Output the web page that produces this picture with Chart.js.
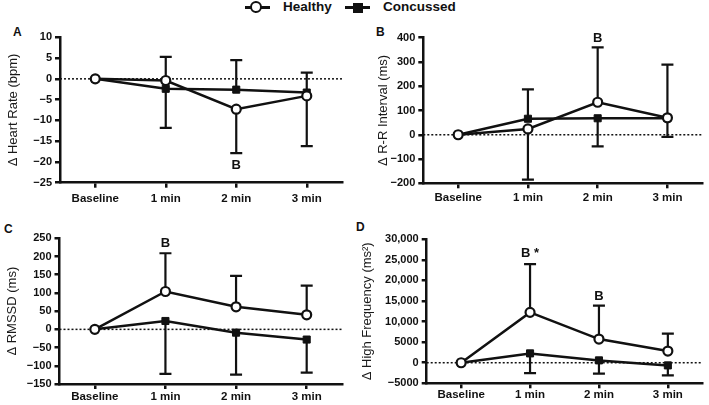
<!DOCTYPE html>
<html>
<head>
<meta charset="utf-8">
<script src="https://cdn.jsdelivr.net/npm/chart.js@4.4.1/dist/chart.umd.min.js"></script>
<style>
  body { margin: 0; background: #fff; font-family: "Liberation Sans", Arial, sans-serif; color: #111; }
  #wrap { position: relative; width: 709px; height: 405px; overflow: hidden; }
  canvas { position: absolute; }
  .tag { position: absolute; font-weight: bold; font-size: 12px; line-height: 12px; }
  .leg-text { position: absolute; top: 0; font-weight: bold; font-size: 13.5px; line-height: 14px; }
  .leg-line { position: absolute; top: 6px; width: 25px; height: 3px; background: #111; }
  .leg-circ { position: absolute; width: 8px; height: 8px; border: 2.5px solid #111; border-radius: 50%; background: #fff; }
  .leg-sq { position: absolute; width: 10px; height: 10px; background: #111; }
</style>
</head>
<body>
<div id="wrap">
  <!-- legend -->
  <div class="leg-line" style="left:245px"></div>
  <div class="leg-circ" style="left:250px; top:1px"></div>
  <div class="leg-text" style="left:283px">Healthy</div>
  <div class="leg-line" style="left:345px"></div>
  <div class="leg-sq" style="left:353px; top:2.5px"></div>
  <div class="leg-text" style="left:383px">Concussed</div>

  <div class="tag" style="left:13px; top:26px">A</div>
  <div class="tag" style="left:376px; top:26px">B</div>
  <div class="tag" style="left:4px; top:223px">C</div>
  <div class="tag" style="left:356px; top:221px">D</div>

  <canvas id="chart-a" width="354" height="188" style="left:0; top:22px"></canvas>
  <canvas id="chart-b" width="355" height="188" style="left:354px; top:22px"></canvas>
  <canvas id="chart-c" width="354" height="183" style="left:0; top:222px"></canvas>
  <canvas id="chart-d" width="355" height="183" style="left:354px; top:222px"></canvas>
</div>

<script>
const categories = ['Baseline', '1 min', '2 min', '3 min'];

// A - heart rate (bpm); *Bar = tip of the SD whisker
const hrHealthy = [0, -0.4, -7.3, -4.1];
const hrHealthyBar = [null, 5.3, -17.9, -16.2];
const hrConcussed = [0, -2.4, -2.6, -3.3];
const hrConcussedBar = [null, -11.8, 4.5, 1.5];
const hrTicks = [10, 5, 0, -5, -10, -15, -20, -25];
const hrNotes = [{ i: 2, v: -20.8, text: 'B' }];

// B - R-R interval (ms)
const rrHealthy = [0, 24, 134, 70];
const rrHealthyBar = [null, -185, 360, 289];
const rrConcussed = [0, 66, 68, 68];
const rrConcussedBar = [null, 187, -48, -9];
const rrTicks = [400, 300, 200, 100, 0, -100, -200];
const rrNotes = [{ i: 2, v: 397, text: 'B' }];

// C - RMSSD (ms)
const rmHealthy = [0, 104, 62, 40];
const rmHealthyBar = [null, 209, 147, 120];
const rmConcussed = [0, 23, -9, -28];
const rmConcussedBar = [null, -122, -124, -119];
const rmTicks = [250, 200, 150, 100, 50, 0, -50, -100, -150];
const rmNotes = [{ i: 1, v: 236, text: 'B' }];

// D - high frequency (ms2)
const hfHealthy = [0, 12240, 5750, 2840];
const hfHealthyBar = [null, 23990, 13860, 7050];
const hfConcussed = [0, 2270, 570, -650];
const hfConcussedBar = [null, -2510, -2670, -3080];
const hfTicks = [30000, 25000, 20000, 15000, 10000, 5000, 0, -5000];
const hfNotes = [{ i: 1, v: 26600, text: 'B *' }, { i: 2, v: 16200, text: 'B' }];

const INK = '#111';
const FONT = '"Liberation Sans", Arial, sans-serif';

// error bars + dotted zero line + letters
const extras = {
    id: 'extras',
    beforeDatasetsDraw(chart, args, opts) {
        const { ctx, chartArea } = chart;
        const x = chart.scales.x, y = chart.scales.y;
        ctx.save();
        ctx.strokeStyle = INK;
        ctx.lineWidth = 1.5;
        ctx.setLineDash([2, 2]);
        const y0 = y.getPixelForValue(0);
        ctx.beginPath();
        ctx.moveTo(chartArea.left, y0);
        ctx.lineTo(chartArea.right, y0);
        ctx.stroke();
        ctx.setLineDash([]);

        ctx.lineWidth = 2.2;
        opts.bars.forEach((bar, d) => {
            const vals = chart.data.datasets[d].data;
            bar.forEach((tip, i) => {
                if (tip === null) return;
                const px = x.getPixelForValue(i);
                const a = y.getPixelForValue(vals[i]);
                const b = y.getPixelForValue(tip);
                ctx.beginPath();
                ctx.moveTo(px, a);
                ctx.lineTo(px, b);
                ctx.moveTo(px - 6, b);
                ctx.lineTo(px + 6, b);
                ctx.stroke();
            });
        });
        ctx.restore();
    },
    afterDatasetsDraw(chart, args, opts) {
        const { ctx } = chart;
        const x = chart.scales.x, y = chart.scales.y;
        ctx.save();
        ctx.fillStyle = INK;
        ctx.font = 'bold 13px ' + FONT;
        ctx.textAlign = 'center';
        ctx.textBaseline = 'middle';
        opts.notes.forEach(n => {
            ctx.fillText(n.text, x.getPixelForValue(n.i), y.getPixelForValue(n.v));
        });
        ctx.restore();
    }
};

function tickText(v) {
    let s = Math.abs(v) >= 10000 ? Math.abs(v).toLocaleString('en-US') : String(Math.abs(v));
    return (v < 0 ? '\u2212' : '') + s;
}

function renderPanel(id, p) {
    const ctx = document.getElementById(id).getContext('2d');
    const axisLine = { display: true, color: INK, width: 2.5 };
    const tickGrid = { drawOnChartArea: false, drawTicks: true, tickLength: 5, color: INK, lineWidth: 2.5 };

    return new Chart(ctx, {
        type: 'line',
        data: {
            labels: categories,
            datasets: [{
                label: 'Healthy',
                data: p.healthy,
                borderColor: INK,
                borderWidth: 2.5,
                tension: 0,
                pointStyle: 'circle',
                pointRadius: 4.5,
                pointBorderWidth: 2.2,
                pointBorderColor: INK,
                pointBackgroundColor: '#fff'
            }, {
                label: 'Concussed',
                data: p.concussed,
                borderColor: INK,
                borderWidth: 2.5,
                tension: 0,
                pointStyle: 'rect',
                pointRadius: 5,
                pointBorderWidth: 1,
                pointBorderColor: INK,
                pointBackgroundColor: INK
            }]
        },
        options: {
            responsive: false,
            animation: false,
            layout: { padding: { top: p.padTop, right: p.padRight, left: 0, bottom: 0 } },
            plugins: {
                legend: { display: false },
                tooltip: { enabled: false },
                extras: { bars: [p.healthyBar, p.concussedBar], notes: p.notes }
            },
            scales: {
                x: {
                    offset: true,
                    grid: Object.assign({ offset: false }, tickGrid),
                    border: axisLine,
                    ticks: {
                        color: INK,
                        padding: p.xPad,
                        maxRotation: 0,
                        font: { family: FONT, size: 11.5, weight: 'bold' }
                    },
                    afterFit(s) { s.height = p.xh; }
                },
                y: {
                    min: Math.min(...p.ticks),
                    max: Math.max(...p.ticks),
                    grid: tickGrid,
                    border: axisLine,
                    ticks: {
                        stepSize: p.ticks[0] - p.ticks[1],
                        color: INK,
                        padding: 3,
                        font: { family: FONT, size: 11, weight: 'bold' },
                        callback: v => tickText(v)
                    },
                    title: {
                        display: true,
                        text: p.title,
                        color: '#1a1a1a',
                        font: { family: FONT, size: 13 },
                        padding: { top: p.titlePad, bottom: 0 }
                    },
                    afterFit(s) { s.width = p.yw; }
                }
            }
        },
        plugins: [extras]
    });
}

renderPanel('chart-a', {
    healthy: hrHealthy, healthyBar: hrHealthyBar, concussed: hrConcussed, concussedBar: hrConcussedBar,
    ticks: hrTicks, notes: hrNotes, title: '\u0394 Heart Rate (bpm)',
    padTop: 15.3, padRight: 12, yw: 60, xh: 27.3, xPad: 4, titlePad: 6
});
renderPanel('chart-b', {
    healthy: rrHealthy, healthyBar: rrHealthyBar, concussed: rrConcussed, concussedBar: rrConcussedBar,
    ticks: rrTicks, notes: rrNotes, title: '\u0394 R-R Interval (ms)',
    padTop: 15.7, padRight: 0, yw: 69.3, xh: 26.7, xPad: 3, titlePad: 22
});
renderPanel('chart-c', {
    healthy: rmHealthy, healthyBar: rmHealthyBar, concussed: rmConcussed, concussedBar: rmConcussedBar,
    ticks: rmTicks, notes: rmNotes, title: '\u0394 RMSSD (ms)',
    padTop: 16.3, padRight: 12, yw: 59.5, xh: 21, xPad: 1, titlePad: 4.7
});
renderPanel('chart-d', {
    healthy: hfHealthy, healthyBar: hfHealthyBar, concussed: hfConcussed, concussedBar: hfConcussedBar,
    ticks: hfTicks, notes: hfNotes, title: '\u0394 High Frequency (ms\u00b2)',
    padTop: 17.3, padRight: 0, yw: 72.7, xh: 21.7, xPad: 0, titlePad: 6
});
</script>
</body>
</html>
